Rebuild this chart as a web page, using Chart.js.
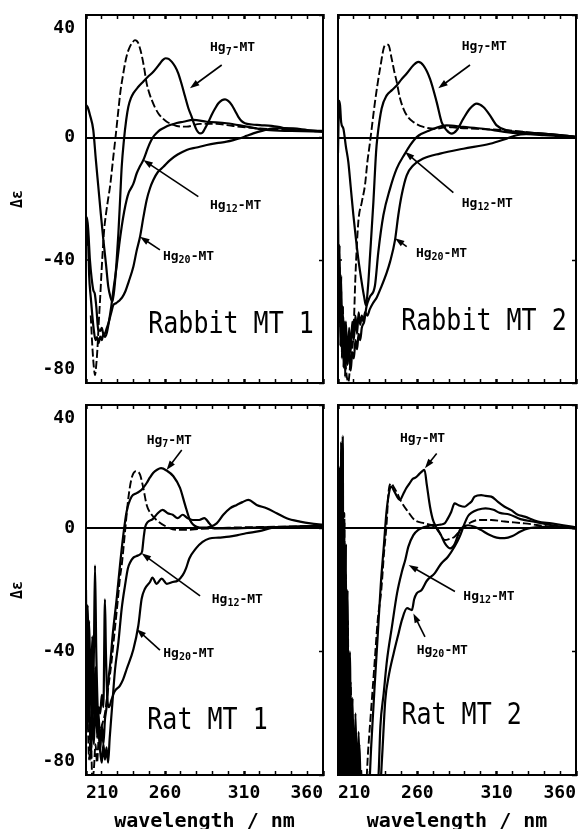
<!DOCTYPE html>
<html lang="en">
<head>
<meta charset="UTF-8">
<title>CD spectra of Hg-MT</title>
<script src="https://cdn.jsdelivr.net/npm/chart.js"></script>
<style>
  body { margin: 0; background: #fff; width: 582px; height: 829px; overflow: hidden; position: relative; }
  canvas { position: absolute; }
</style>
</head>
<body>
<canvas id="rabbit1" width="331" height="394" style="left:0;top:0"></canvas>
<canvas id="rabbit2" width="251" height="394" style="left:331px;top:0"></canvas>
<canvas id="rat1" width="331" height="435" style="left:0;top:394px"></canvas>
<canvas id="rat2" width="251" height="435" style="left:331px;top:394px"></canvas>
<script>
// axis labels
const nmLabels = [210, 260, 310, 360];
const deltaTicks = [-80, -40, 0, 40];

// spectra as [wavelength nm, delta epsilon]
const rabbit1Dashed = [[213,-58],[214,-68],[215,-75],[215.7,-77.4],[216.5,-74],[217.2,-69.2],[218,-61],[218.9,-52.9],[219.7,-45],[220.5,-37.7],[221.5,-30],[222.7,-24.7],[224,-20],[225.2,-16],[226.3,-11],[227.3,-6.2],[228.4,-1.2],[229.4,3.6],[230.6,9.5],[231.9,15.5],[233.3,20],[234.7,24.2],[236.2,27.5],[237.8,29.7],[239.4,31],[241,31.8],[242,31.6],[243.1,30.8],[244.5,28.5],[245.9,25.3],[247.2,21.5],[248.4,17.7],[250,14.6],[251.6,12.3],[253.7,9.8],[255.8,7.9],[258.5,6.3],[261.1,5.2],[264.2,4.4],[267.4,3.8],[273.7,3.6],[282.2,4.5],[292.7,4.5],[303.2,3.8],[320,3],[340,2.4],[360,2]];
const rabbit1Hg7 = [[210,10.7],[211,10],[212.5,7.4],[214.6,2.5],[216.2,-7],[217.8,-16],[219.4,-25],[221,-33.4],[222.6,-41],[224.1,-48.6],[225.5,-52],[226.7,-53.5],[228,-49],[229.4,-40],[230.5,-31.2],[231.6,-20],[232.6,-9.5],[234,-0.8],[235.5,6],[236.8,10.1],[238.5,13],[240,14.5],[243,16.5],[246.3,18.3],[249.5,20],[252.6,21.5],[255,23],[256.8,24.2],[258.5,25.3],[260.4,25.9],[262.3,25.7],[264.2,24.8],[266.3,23.3],[268.4,21],[270.5,17.5],[272.7,13.4],[274.8,9.6],[276.9,6.8],[278.5,4.3],[280,2.5],[282.2,1.4],[283.8,1.7],[285.3,3],[287.4,5],[289.5,7.4],[291.7,9.5],[293.8,11.2],[296,12.2],[298,12.5],[300,12],[302.2,10.7],[304.3,8.8],[306.4,6.8],[308.5,5.4],[310.6,4.7],[315,4.3],[320.1,4.1],[330.7,3.6],[341.2,2.5],[350,2.3],[360,2.2]];
const rabbit1Hg12 = [[210,-28],[210.5,-35],[211.2,-30],[212,-45],[213,-52],[214,-58],[215,-63],[216,-66],[217,-65],[218,-67],[219,-64.9],[220,-66],[221,-64],[222,-65],[223.1,-63.8],[224.5,-60],[226,-55],[227.5,-49],[229.4,-42],[231,-35],[232.6,-29],[234.2,-24],[235.7,-20.3],[237,-18],[238.5,-16.5],[240,-15],[242.1,-11.6],[244,-9.5],[246.3,-7.3],[248,-5],[249.5,-2.9],[251,-1.2],[252.6,0.3],[254.7,1.5],[256.8,2.5],[260,3.4],[263.2,4.1],[267.4,4.8],[271.6,5.2],[277.9,5.8],[286.4,5.2],[299,4.7],[311.7,3.6],[324.3,2.5],[340,2.2],[360,2]];
const rabbit1Hg20 = [[210,-40],[210.6,-26],[211.4,-30],[212.5,-40],[213.6,-46],[214.6,-49.7],[215.6,-51],[216.5,-55],[217.8,-62.7],[219,-63],[220,-62],[221,-64],[222,-63.8],[223.2,-62],[224.5,-60],[226,-57],[227.3,-54.6],[229,-54],[230.2,-53.5],[231.5,-52.9],[233,-52],[235,-50],[237,-47],[240,-42],[242,-37],[244.2,-32.3],[246.3,-26],[248.4,-20.3],[250.5,-16.5],[252.6,-13.8],[255.5,-11.2],[259,-9.5],[263.2,-7.3],[268,-5.5],[273.7,-4],[280,-3.2],[286.4,-2.4],[292.7,-1.8],[299,-1.3],[303.3,-0.8],[307.5,-0.2],[311.7,0.6],[315.9,1.4],[322,2.3],[328.6,3],[335,3.1],[341.2,3],[350,2.5],[360,2]];

const rabbit2Dashed = [[213,-55],[214.5,-72],[216.5,-79.7],[218,-72],[219.7,-64.5],[221,-45],[222.8,-27.5],[225,-21],[227,-15.5],[228.5,-8],[230.2,-1.4],[233.3,11.6],[236.5,22.5],[239.6,30.1],[241.7,30.3],[243.8,25.8],[245.5,21.5],[247,18.2],[249,13],[251.2,9.5],[254,6.8],[257.5,5.1],[263.8,3.5],[272.2,2.9],[278.5,3.5],[284.8,3.2],[297.4,2.9],[316.3,2.4],[340,1.2],[360,0.2]];
const rabbit2Hg7 = [[210,-5],[210.7,12],[211.3,10.5],[212,5],[213.4,2.9],[215,-3],[216.5,-7.9],[218,-16],[219.7,-25.3],[221.3,-33],[222.8,-39.5],[224.9,-47],[226.5,-52],[227.6,-54.7],[229,-48],[230.2,-38.4],[232.3,-21],[234,-4.7],[234.8,0],[237.5,9.5],[240.7,13.8],[244,15.5],[247,17],[250,19],[253.3,20.9],[257.5,23.6],[260.6,24.7],[263.8,23.6],[268,19.2],[272.2,11.6],[275.3,5.1],[278.5,2.4],[281.6,1.3],[284.8,2.4],[289,6.2],[293.2,9.5],[297.4,11.1],[301.6,10],[305.8,7.3],[310,4],[316.3,2.4],[326.8,1.8],[339.4,1.3],[350,0.8],[360,0.2]];
const rabbit2Hg12 = [[210,-22],[210.5,-50],[211,-35],[211.5,-62],[212,-45],[212.5,-70],[213,-55],[213.5,-75],[214,-60],[214.5,-78],[215,-66],[216,-74],[217,-68],[218,-76],[219,-70],[220,-72],[221,-66],[222,-69],[223,-64],[224,-66],[225,-62],[226.5,-60],[228,-55],[230,-52],[233.3,-48.2],[235.4,-37.3],[238.6,-25.3],[242.8,-16.6],[247,-10.1],[252.2,-5.2],[255.4,-2.5],[259.6,0.2],[268,2.4],[278.5,4],[289,3.5],[301.6,2.9],[316.3,1.8],[340,0.8],[360,0.2]];
const rabbit2Hg20 = [[210,-35],[210.5,-60],[211,-42],[211.5,-68],[212,-50],[212.5,-72],[213,-58],[214,-70],[215,-60],[216,-74],[217,-62],[218,-70],[219,-60],[220,-66],[221,-58],[222,-64],[223,-57],[224,-61],[225,-58],[226,-60],[227,-57],[228.5,-58],[230,-56],[232,-54],[234.5,-52],[237,-49],[240.7,-44],[242.8,-40.5],[245.9,-33.5],[248,-25.3],[250.1,-18.8],[253.3,-12.3],[257.5,-9],[263.8,-6.8],[274.3,-5.2],[289,-3.6],[305.8,-2],[316.3,-0.3],[322.6,0.8],[335.2,1.3],[350,0.8],[360,0.2]];

const rat1Dashed = [[211,-60],[212,-75],[213,-65],[214,-82],[215,-78],[216,-70],[217,-76],[218,-68],[220,-64],[222,-60],[224,-52],[226,-44],[228,-34],[230,-24],[231.5,-16],[232.6,-12],[234.7,-1.1],[236.8,9.8],[238.9,16.3],[241.6,18.5],[244.2,17.4],[246.3,13],[248.4,7.6],[251.6,4.4],[255.8,2.2],[261.1,0.5],[267.4,-0.5],[273.7,-0.5],[282.2,-0.2],[300,0.2],[330,0.5],[360,0.8]];
const rat1Hg7 = [[210,-25],[211,-50],[212,-30],[213,-55],[214,-35],[215,-60],[216,-45],[217,-68],[218,-60],[219,-72],[220,-64],[221,-70],[222,-62],[223,-58],[224,-50],[225.2,-44.6],[227,-34],[229.4,-22.9],[231.5,-12],[233.6,-2.2],[235.7,5.4],[238.9,10.3],[242.1,11.4],[245.2,12.5],[248.4,14.7],[250.5,16.5],[252.6,18],[255,19],[257.5,19.5],[261.1,18.7],[265.3,16.9],[269.5,13.1],[272.7,7.6],[275.8,2.7],[280,0.5],[284.3,0.2],[288.5,0.5],[292.7,1.6],[296.9,4.4],[301.1,6.5],[305.4,7.6],[309,8.5],[312.7,9.2],[318,7.6],[324.3,6.5],[330.7,4.9],[337,3.3],[345.4,2.2],[352,1.6],[360,1.2]];
const rat1Hg12 = [[210,-20],[210.5,-55],[211,-25],[212,-60],[213,-45],[214,-65],[215,-40],[215.7,-12],[216.5,-40],[217.5,-60],[218.9,-72],[220,-76],[221,-70],[222,-75],[223,-71],[224,-76],[225,-68],[226.5,-58],[228.4,-45.7],[230.5,-37],[232.6,-26],[234.7,-18.5],[236.5,-13],[238,-11],[240,-9.5],[242,-9],[244,-8.5],[245.5,-7.5],[246.5,-3],[247.5,0.5],[249,2],[252.2,3],[255.4,4.9],[258.5,6],[261.7,4.9],[264.9,4.4],[268,3.3],[271.2,4.4],[274.3,3.3],[277.5,2.7],[281.7,2.7],[284.9,3.3],[288.1,1.6],[291.2,0],[300,0],[320,0.3],[340,0.5],[360,0.8]];
const rat1Hg20 = [[210,-45],[211,-65],[212,-50],[213,-75],[214,-60],[215,-70],[216,-55],[217,-66],[218,-58],[219,-60],[220,-54],[221,-58],[222,-23],[222.6,-40],[223.5,-55],[224.5,-58],[226.2,-55.5],[228,-53],[231.5,-51],[233.5,-49],[235.7,-45.7],[240,-39.2],[243.1,-31.6],[245.2,-22.9],[247.3,-19.6],[250.5,-17.4],[252,-16],[254.7,-18],[257.9,-16.3],[261.1,-18],[264.9,-17.4],[268,-17],[271.2,-15.2],[273.3,-13],[275.4,-9.8],[279.6,-6.5],[283.8,-4.4],[288.1,-3.3],[294,-3],[300.7,-2.7],[306,-2.2],[311.3,-1.6],[319.7,-0.9],[328.1,0.2],[340,0.5],[360,0.8]];

const rat2Dashed = [[210,-30],[210.5,-85],[211,-5],[211.5,-85],[212,18],[212.5,-85],[213,26],[213.5,-85],[214,5],[214.5,-85],[215,-15],[215.5,-85],[216.2,-30],[217,-85],[218,-50],[219,-85],[220,-65],[221,-85],[222,-75],[223,-88],[224.5,-78],[225.5,-88],[227,-88],[229,-72],[231,-58],[233,-44],[235,-30],[237.3,-20],[239,-8],[240.5,0.5],[242,12.4],[243.6,14.6],[245,13.5],[246.8,11.9],[249.9,8.6],[254.1,5.4],[258.3,2.7],[264.6,1.6],[270.9,0.5],[274,-1.5],[277.2,-3.8],[280,-3.5],[283.5,-2.7],[286.5,-1],[289.8,0.5],[294,2],[298.2,2.7],[306.6,2.7],[315,2.2],[327.6,1.6],[344.5,0.5],[360,0]];
const rat2Hg7 = [[210,-10],[210.5,-85],[211,20],[211.5,-85],[212,28],[212.5,-80],[213,30],[213.5,-85],[214,2],[214.5,-85],[215,-5],[215.5,-85],[216,-20],[216.7,-85],[217.5,-40],[218.3,-85],[219.2,-55],[220,-88],[221,-60],[222,-85],[223,-66],[224,-88],[229,-88],[231,-70],[233,-52],[235,-35],[237,-18],[239,-5],[240.5,5],[242,11],[243.5,13.5],[245.5,12],[247,10.5],[249,9.2],[251,11],[253,13],[255,14.5],[257,16],[259,16.5],[261,17.5],[263,18.5],[264.5,19],[266,14],[268,7],[270,2.5],[272,1],[274.5,1.2],[277.2,1.6],[279,3],[281.4,5.4],[283.5,8.1],[286,7.5],[289.8,7],[292,7.8],[294,8.6],[296.1,10.3],[300.3,10.8],[303,10.5],[306.6,10.3],[310.8,8.6],[315,7],[319.2,5.9],[323,4.5],[327.6,3.8],[336,2.2],[344.5,1.6],[352,1],[360,0.3]];
const rat2Hg12 = [[210,-40],[210.5,-85],[211,-20],[211.5,-85],[212,-10],[212.5,-85],[213,-15],[213.5,-85],[214,-30],[214.5,-85],[215.2,-40],[216,-85],[217,-45],[218,-85],[219,-60],[220,-85],[221,-70],[222,-88],[223,-72],[224,-88],[234,-88],[235.6,-79.5],[236.7,-64.3],[238.8,-53.5],[240.9,-42.7],[244,-31.9],[247.2,-21.1],[250.3,-14],[252.5,-10],[254.3,-6],[257.5,-2.2],[260.6,-0.5],[265,0.5],[270.1,1.1],[274.3,-1.6],[277.4,-4.9],[280.6,-6.5],[283.7,-4.9],[286.9,-0.5],[289,0.5],[292,1],[296,0.5],[300,-0.5],[305,-2],[310,-3],[315,-3.2],[320,-2.5],[325,-1],[330,0],[340,0.5],[360,0]];
const rat2Hg20 = [[210,-50],[210.5,-85],[211,-30],[211.5,-85],[212,5],[212.5,-85],[213,-20],[213.5,-85],[214,-10],[214.5,-85],[215.5,-35],[216.5,-85],[217.5,-50],[218.5,-85],[219.5,-62],[220.5,-85],[221.5,-75],[222.5,-88],[223.5,-70],[224.5,-88],[236,-88],[237.7,-75],[239.8,-55.7],[241.9,-48.1],[245.1,-40.5],[248.2,-34],[250.3,-29.7],[253.5,-25.9],[256.6,-26.5],[258,-23],[259.6,-21.1],[262.7,-20],[266,-17],[270.9,-14.6],[273,-13],[275.1,-11.4],[279.3,-9.2],[283.5,-5.9],[286.7,-2.7],[289.8,1.6],[292,4],[294,5],[298,6],[303,6.5],[308,6],[312,5],[318,4.5],[325,3],[335,2],[345,1],[360,0]];

const FONT = "'DejaVu Sans Mono', monospace";

// sample names and Hg_n-MT captions with arrows, placed in nm / delta-epsilon units
const panelNotes = {
  rabbit1: { name: 'Rabbit MT 1', nameAt: [301.8, -61.1], arrows: [
    { n: '7', at: [288.5, 29.2], from: [295.9, 23.7], tip: [275.8, 16.1] },
    { n: '12', at: [288.5, -22], from: [281.1, -19.2], tip: [246.3, -7.3] },
    { n: '20', at: [258.7, -38.8], from: [256.8, -36.6], tip: [244.2, -32.3] }
  ]},
  rabbit2: { name: 'Rabbit MT 2', nameAt: [302, -60.4], arrows: [
    { n: '7', at: [288, 29.7], from: [293.2, 23.7], tip: [273.2, 16.1] },
    { n: '12', at: [288, -21.4], from: [282.7, -17.9], tip: [252.2, -4.6] },
    { n: '20', at: [259.1, -37.7], from: [253.3, -35.5], tip: [245.9, -32.8] }
  ]},
  rat1: { name: 'Rat MT 1', nameAt: [286.9, -62.7], arrows: [
    { n: '7', at: [248.4, 28.6], from: [270.6, 25.4], tip: [261, 18.9] },
    { n: '12', at: [289.6, -23.2], from: [282.2, -21.9], tip: [245.2, -8.1] },
    { n: '20', at: [258.9, -40.5], from: [256.8, -39.5], tip: [242.1, -32.7] }
  ]},
  rat2: { name: 'Rat MT 2', nameAt: [287.9, -61.1], arrows: [
    { n: '7', at: [249.1, 29.2], from: [272.2, 24.3], tip: [264.8, 19.5] },
    { n: '12', at: [289, -22.2], from: [283.7, -20.5], tip: [254.5, -11.9] },
    { n: '20', at: [259.6, -39.5], from: [264.8, -35.2], tip: [257.5, -27.6] }
  ]}
};

const notesPlugin = {
  id: 'hgNotes',
  afterDatasetsDraw(chart) {
    const note = panelNotes[chart.canvas.id];
    const { ctx, scales: { x, y } } = chart;
    const px = p => x.getPixelForValue(p[0]);
    const py = p => y.getPixelForValue(p[1]);
    ctx.save();
    ctx.fillStyle = '#000';
    ctx.strokeStyle = '#000';

    // sample name, a bit tall like the plotter lettering
    ctx.save();
    ctx.translate(px(note.nameAt), py(note.nameAt));
    ctx.scale(1, 1.17);
    ctx.font = `25px ${FONT}`;
    ctx.textAlign = 'center';
    ctx.textBaseline = 'middle';
    ctx.fillText(note.name, 0, 0);
    ctx.restore();

    ctx.textAlign = 'left';
    ctx.textBaseline = 'middle';
    note.arrows.forEach(a => {
      let cx = px(a.at);
      const cy = py(a.at);
      ctx.font = `bold 13px ${FONT}`;
      ctx.fillText('Hg', cx, cy);
      cx += ctx.measureText('Hg').width;
      ctx.font = `bold 10px ${FONT}`;
      ctx.fillText(a.n, cx, cy + 4);
      cx += ctx.measureText(a.n).width;
      ctx.font = `bold 13px ${FONT}`;
      ctx.fillText('-MT', cx, cy);

      // arrow from caption to its curve
      const x0 = px(a.from), y0 = py(a.from), x1 = px(a.tip), y1 = py(a.tip);
      const ang = Math.atan2(y1 - y0, x1 - x0);
      ctx.lineWidth = 1.6;
      ctx.beginPath();
      ctx.moveTo(x0, y0);
      ctx.lineTo(x1 - 6 * Math.cos(ang), y1 - 6 * Math.sin(ang));
      ctx.stroke();
      ctx.beginPath();
      ctx.moveTo(x1, y1);
      ctx.lineTo(x1 - 10 * Math.cos(ang - 0.33), y1 - 10 * Math.sin(ang - 0.33));
      ctx.lineTo(x1 - 10 * Math.cos(ang + 0.33), y1 - 10 * Math.sin(ang + 0.33));
      ctx.closePath();
      ctx.fill();
    });
    ctx.restore();
  }
};

function spectrum(points, dashed) {
  return {
    data: points.map(p => ({ x: p[0], y: p[1] })),
    borderColor: '#000',
    borderWidth: dashed ? 1.9 : 2.2,
    borderDash: dashed ? [8, 3] : [],
    pointRadius: 0,
    cubicInterpolationMode: 'monotone',
    fill: false
  };
}

const frame = { display: true, color: '#000', width: 2 };
const tickFont = { family: FONT, size: 18, weight: 'bold' };

// fixed axis sizes so the four boxes line up; no extra label padding
function fixSize(prop, size) {
  return s => {
    s[prop] = size;
    s.paddingTop = s.paddingBottom = s.paddingLeft = s.paddingRight = 0;
  };
}

function drawPanel(id, curves, left, bottom) {
  new Chart(document.getElementById(id), {
    type: 'line',
    data: { datasets: [spectrum(curves[0], true), spectrum(curves[1]), spectrum(curves[2]), spectrum(curves[3])] },
    options: {
      responsive: false,
      animation: false,
      devicePixelRatio: 1,
      layout: { padding: 0 },
      plugins: { legend: { display: false }, tooltip: { enabled: false } },
      scales: {
        x: {
          type: 'linear', position: 'bottom', min: 210, max: 360,
          ticks: {
            display: bottom, stepSize: 10, autoSkip: false, maxRotation: 0, align: 'inner',
            padding: 12, color: '#000', font: tickFont,
            callback: v => nmLabels.includes(v) ? String(v) : ''
          },
          grid: { drawOnChartArea: false, tickLength: -4, tickColor: '#000',
                  tickWidth: c => nmLabels.includes(c.tick.value) ? 2.5 : 1.5 },
          border: frame,
          title: { display: bottom, text: 'wavelength / nm', color: '#000',
                   font: { family: FONT, size: 20, weight: 'bold', lineHeight: 1 },
                   padding: { top: 0, bottom: -3 } },
          afterFit: fixSize('height', bottom ? 54 : 11)
        },
        x2: {
          type: 'linear', position: 'top', min: 210, max: 360,
          ticks: { display: false, stepSize: 10 },
          grid: { drawOnChartArea: false, tickLength: -4, tickColor: '#000',
                  tickWidth: c => nmLabels.includes(c.tick.value) ? 2.5 : 1.5 },
          border: frame,
          afterFit: fixSize('height', bottom ? 11 : 15)
        },
        y: {
          position: 'left', min: -80, max: 40,
          afterBuildTicks: s => { s.ticks = deltaTicks.map(v => ({ value: v })); },
          ticks: {
            display: left, padding: 15, color: '#000',
            font: { family: FONT, size: 18, weight: 'bold', lineHeight: 1.5 },
            // end labels sit just inside the frame
            callback: v => v === 40 ? ['', '40'] : v === -80 ? ['-80', ''] : String(v)
          },
          grid: { drawOnChartArea: true, lineWidth: 2,
                  color: c => c.tick && c.tick.value === 0 ? '#000' : 'rgba(0,0,0,0)',
                  tickLength: -4, tickColor: '#000', tickWidth: 1.5 },
          border: frame,
          title: { display: left, text: 'Δε', color: '#000',
                   font: { family: FONT, size: 15, weight: 'bold' }, padding: { top: 9, bottom: 0 } },
          afterFit: fixSize('width', left ? 86 : 7)
        },
        y2: {
          position: 'right', min: -80, max: 40,
          afterBuildTicks: s => { s.ticks = deltaTicks.map(v => ({ value: v })); },
          ticks: { display: false },
          grid: { drawOnChartArea: false, tickLength: -4, tickColor: '#000', tickWidth: 1.5 },
          border: frame,
          afterFit: fixSize('width', left ? 8 : 6)
        }
      }
    },
    plugins: [notesPlugin]
  });
}

drawPanel('rabbit1', [rabbit1Dashed, rabbit1Hg7, rabbit1Hg12, rabbit1Hg20], true, false);
drawPanel('rabbit2', [rabbit2Dashed, rabbit2Hg7, rabbit2Hg12, rabbit2Hg20], false, false);
drawPanel('rat1', [rat1Dashed, rat1Hg7, rat1Hg12, rat1Hg20], true, true);
drawPanel('rat2', [rat2Dashed, rat2Hg7, rat2Hg12, rat2Hg20], false, true);
</script>
</body>
</html>
